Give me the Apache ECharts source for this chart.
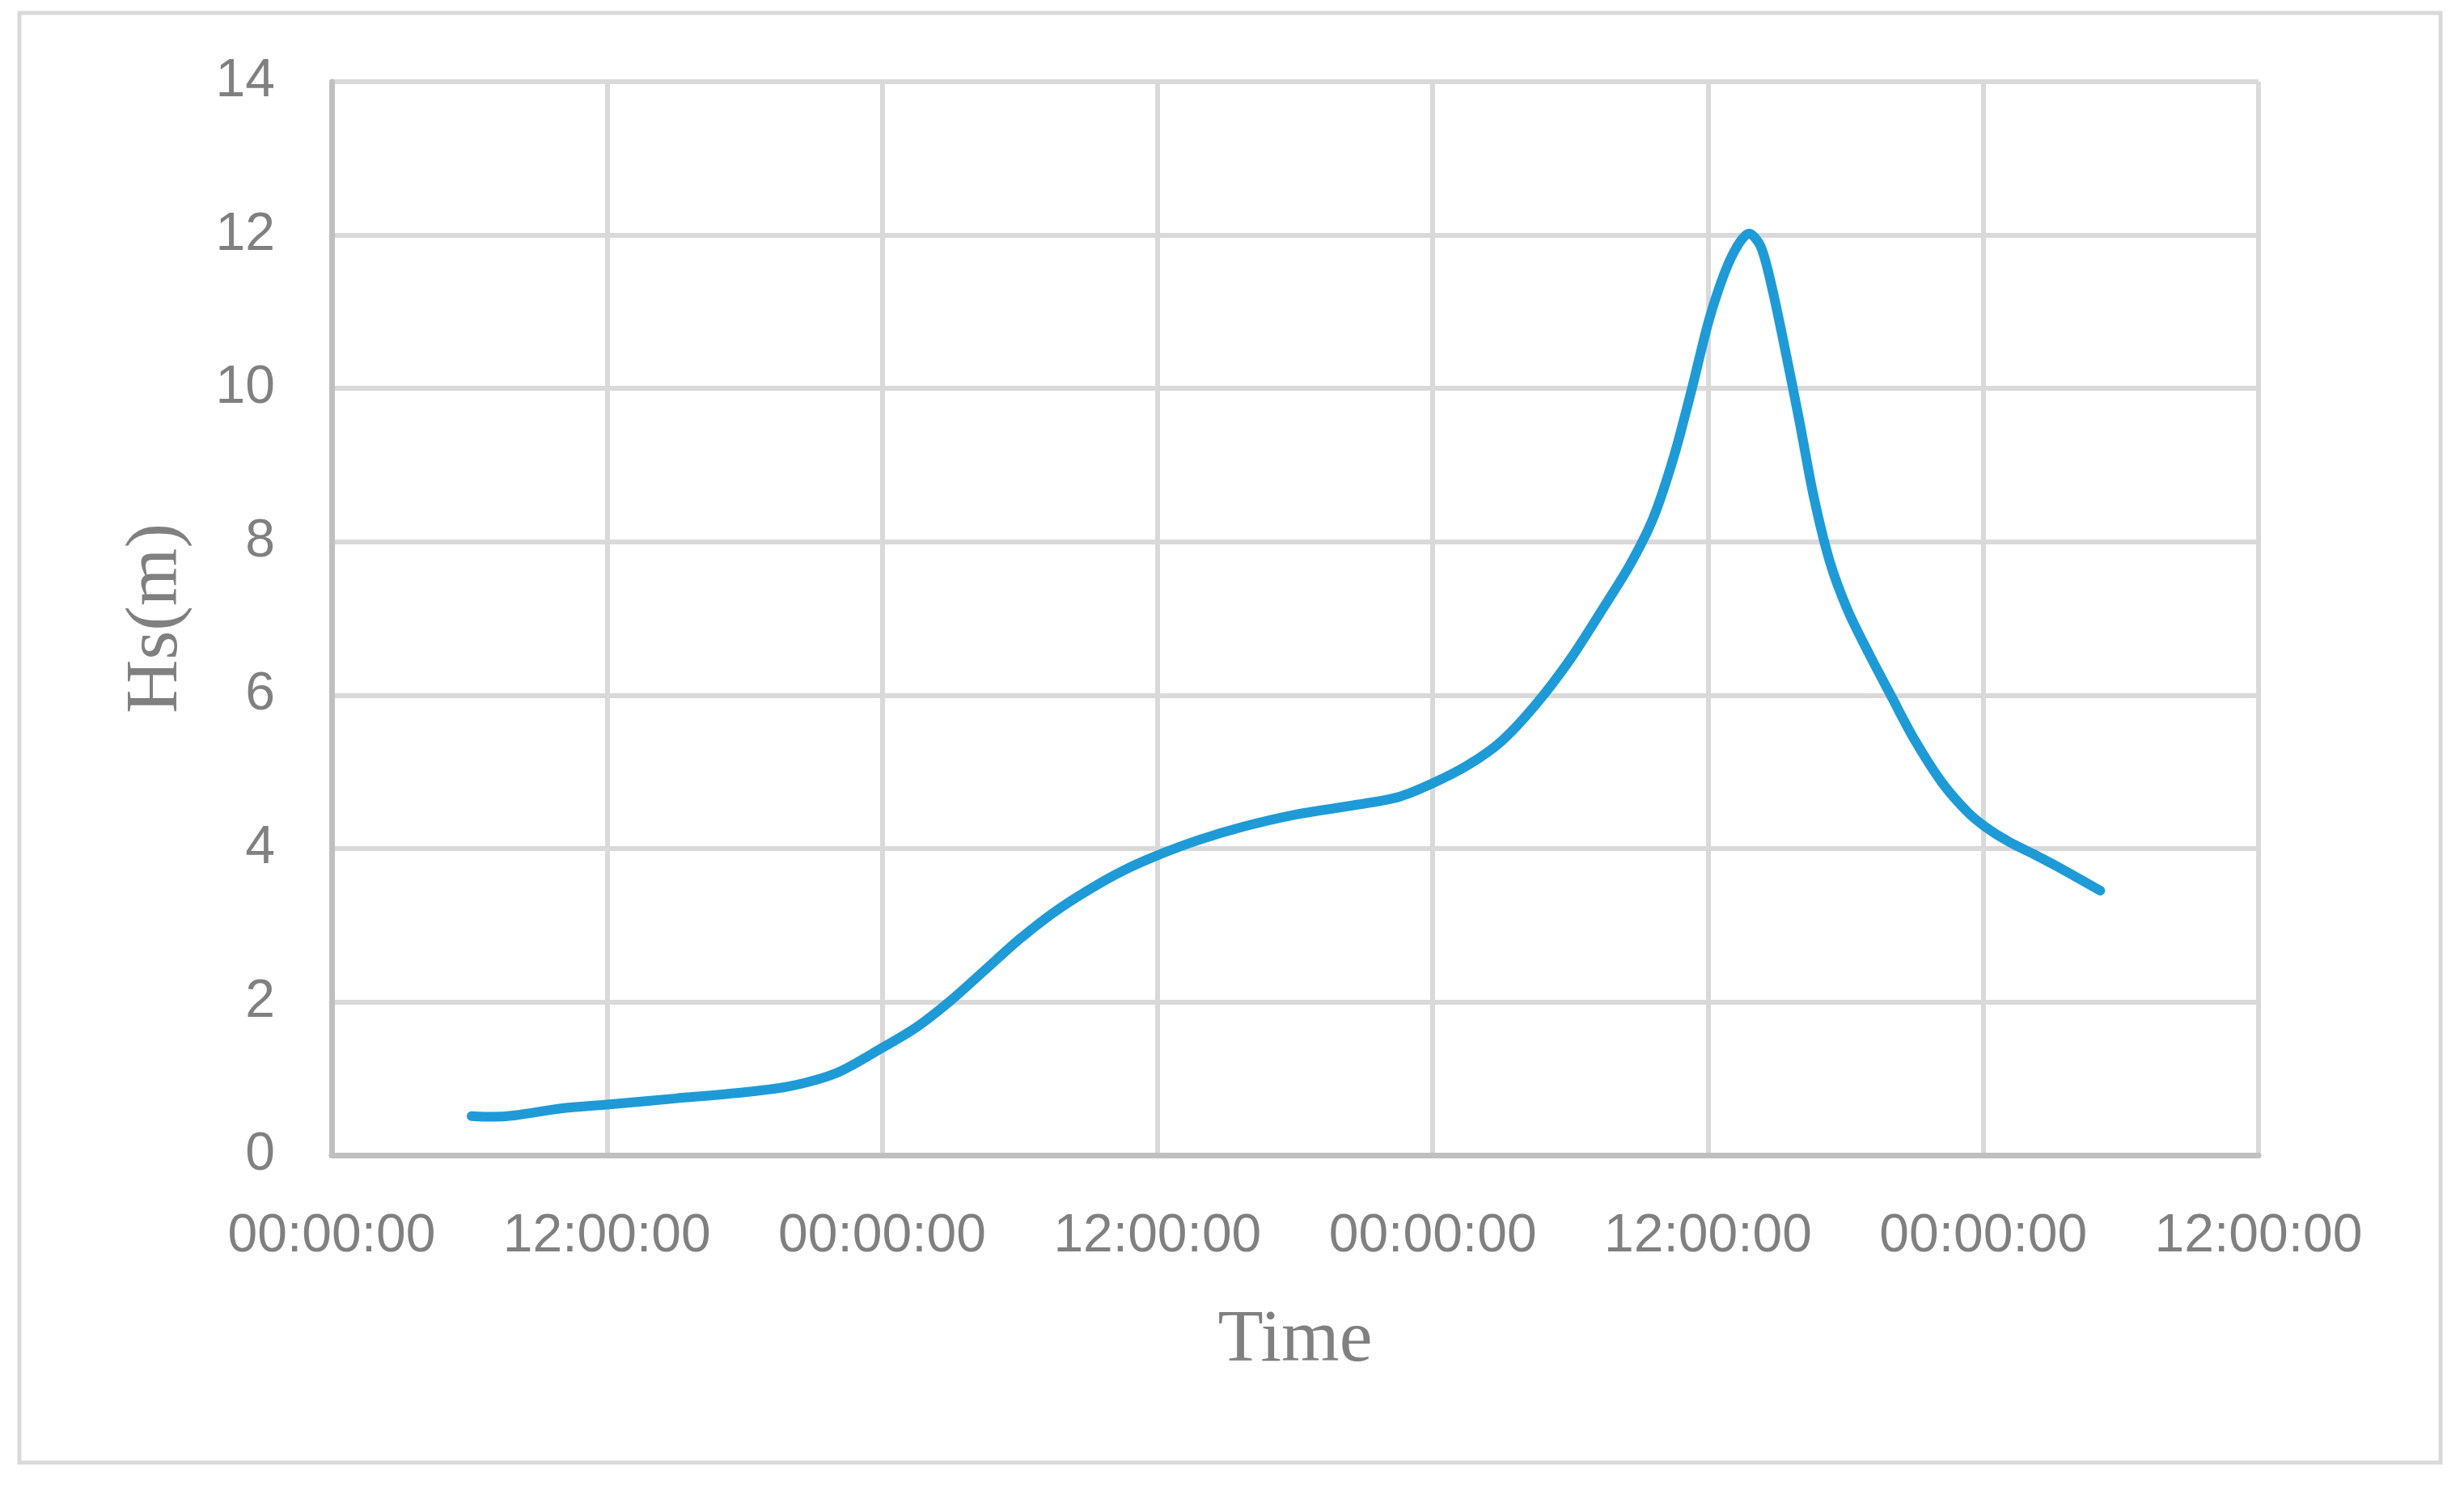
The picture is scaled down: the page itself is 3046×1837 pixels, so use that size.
<!DOCTYPE html>
<html>
<head>
<meta charset="utf-8">
<script src="https://cdn.jsdelivr.net/npm/echarts@6/dist/echarts.min.js"></script>
<style>
html,body{margin:0;padding:0;background:#fff;}
#chart{width:3046px;height:1837px;}
</style>
</head>
<body>
<div id="chart"></div>
<script>
// Time in hours from the first 00:00:00 tick
var timeHours = [6.1, 7.0, 8.0, 10.0, 12.0, 15.0, 18.0, 20.0, 22.0, 24.0, 25.5, 27.0, 28.5, 30.0, 31.5, 33.0, 34.5, 36.0, 37.8, 39.7, 42.0, 44.5, 46.5, 48.0, 49.5, 51.0, 52.5, 54.0, 55.4, 56.6, 57.6, 58.5, 59.3, 60.1, 61.0, 61.8, 62.3, 62.8, 63.4, 64.0, 64.6, 65.3, 66.1, 67.0, 68.0, 69.0, 70.2, 71.3, 72.1, 73.1, 74.3, 75.5, 77.1];
var hsValues = [0.51, 0.50, 0.52, 0.61, 0.66, 0.74, 0.82, 0.90, 1.07, 1.40, 1.67, 2.02, 2.42, 2.82, 3.17, 3.46, 3.71, 3.91, 4.11, 4.28, 4.44, 4.56, 4.67, 4.85, 5.08, 5.40, 5.88, 6.47, 7.12, 7.70, 8.30, 9.10, 10.00, 10.95, 11.70, 12.02, 11.85, 11.30, 10.45, 9.55, 8.60, 7.75, 7.10, 6.55, 5.98, 5.42, 4.86, 4.48, 4.28, 4.09, 3.91, 3.72, 3.45];
var xTickLabels = ['00:00:00', '12:00:00', '00:00:00', '12:00:00', '00:00:00', '12:00:00', '00:00:00', '12:00:00'];
var yTickValues = [0, 2, 4, 6, 8, 10, 12, 14];
var xAxisTitle = 'Time';
var yAxisTitle = 'Hs(m)';

var seriesData = timeHours.map(function (t, i) { return [t, hsValues[i]]; });

var chart = echarts.init(document.getElementById('chart'), null, {renderer: 'canvas'});
var gray = '#808080';
chart.setOption({
  backgroundColor: '#ffffff',
  animation: false,
  graphic: [{
    type: 'rect',
    shape: {x: 24, y: 16, width: 2993, height: 1792},
    style: {fill: 'none', stroke: '#d9d9d9', lineWidth: 5},
    silent: true
  }],
  grid: {left: 410, top: 101, width: 2382, height: 1327},
  xAxis: {
    type: 'value',
    min: 0,
    max: 84,
    interval: 12,
    name: xAxisTitle,
    nameLocation: 'middle',
    nameGap: 184,
    nameTextStyle: {fontFamily: 'Liberation Serif', fontSize: 92, color: gray},
    axisLine: {show: true, lineStyle: {color: '#bfbfbf', width: 7}},
    axisTick: {show: false},
    splitLine: {show: true, lineStyle: {color: '#d9d9d9', width: 6}},
    axisLabel: {
      color: gray,
      fontFamily: 'Liberation Sans',
      fontSize: 66,
      margin: 68,
      formatter: function (v) { return xTickLabels[Math.round(v / 12)]; }
    }
  },
  yAxis: {
    type: 'value',
    min: yTickValues[0],
    max: yTickValues[yTickValues.length - 1],
    interval: 2,
    name: yAxisTitle,
    nameLocation: 'middle',
    nameGap: 170,
    nameRotate: 90,
    nameTextStyle: {fontFamily: 'Liberation Serif', fontSize: 92, color: gray},
    axisLine: {show: true, lineStyle: {color: '#bfbfbf', width: 7}},
    axisTick: {show: false},
    splitLine: {show: true, lineStyle: {color: '#d9d9d9', width: 6}},
    axisLabel: {
      color: gray,
      fontFamily: 'Liberation Sans',
      fontSize: 66,
      margin: 70
    }
  },
  series: [{
    type: 'line',
    data: seriesData,
    smooth: 0.3,
    showSymbol: false,
    lineStyle: {color: '#1e9bd7', width: 12, cap: 'round', join: 'round'},
    itemStyle: {color: '#1e9bd7'}
  }]
});
</script>
</body>
</html>
